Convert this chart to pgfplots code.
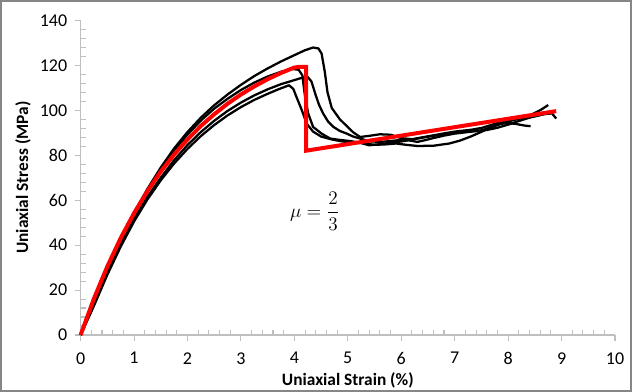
\documentclass[border=0pt]{standalone}
\usepackage{fontspec}
\setmainfont{Carlito}
\usepackage{amsmath}
\usepackage{pgfplots}
\pgfplotsset{compat=1.18}
\definecolor{axgray}{RGB}{191,191,191}
\definecolor{framegray}{RGB}{134,134,134}
\begin{document}
\begin{tikzpicture}
\useasboundingbox (-60.45pt,-42.75pt) rectangle (413.55pt,251.25pt);
\begin{axis}[
  scale only axis,
  width=400.8pt, height=236pt,
  xmin=0, xmax=10, ymin=0, ymax=140,
  axis lines=left,
  axis line style={draw=axgray, line width=0.8pt, -},
  xtick={0,1,...,10}, ytick={0,20,...,140},
  minor x tick num=4, minor y tick num=4,
  tick align=outside,
  major tick length=4.5pt,
  minor tick length=3.75pt,
  tick style={draw=axgray, line width=0.8pt},
  minor x tick style={yshift=3.75pt},
  minor y tick style={xshift=3.75pt},
  /pgf/number format/assume math mode=true,
  tick label style={font=\fontsize{13.5}{15}\selectfont},
  xticklabel style={yshift=-5pt},
  yticklabel style={xshift=-2pt},
  every axis x label/.style={at={(axis description cs:0.5,-0.143)}, anchor=center},
  every axis y label/.style={at={(axis description cs:-0.1078,0.5)}, rotate=90, anchor=center},
  xlabel={\fontsize{13}{15}\selectfont\bfseries Uniaxial Strain (\%)},
  ylabel={\fontsize{13}{15}\selectfont\bfseries Uniaxial Stress (MPa)},
  clip=false,
]
\addplot[black, line width=1.7pt, line join=round] coordinates {
(0,0) (0.25,14.5) (0.5,29) (0.75,42.3) (1,54.3) (1.25,65) (1.5,74.5) (1.75,83)
(2,90.3) (2.25,96.7) (2.5,102.2) (2.75,107) (3,111.3) (3.25,115.2) (3.5,118.6)
(3.75,121.7) (4,124.5) (4.2,126.7) (4.35,127.9) (4.45,127.5) (4.51,125.2)
(4.57,117) (4.62,108) (4.7,101) (4.85,96) (5.0,92.5) (5.1,90.2) (5.23,88.1)
(5.4,88.6) (5.6,89.3) (5.8,89.1) (6.0,87.6) (6.2,87.1) (6.5,88.4) (6.8,89.7)
(7.0,90.5) (7.3,91.3) (7.5,92.1) (7.8,94.3) (8.0,95.5) (8.2,96.5) (8.4,97.6)
(8.6,100) (8.75,102.3)};
\addplot[black, line width=1.7pt, line join=round] coordinates {
(0,0) (0.25,14) (0.5,28.5) (0.75,41.7) (1,53.7) (1.25,64.3) (1.5,73.6) (1.75,82)
(2,89.2) (2.25,95.4) (2.5,100.7) (2.75,105.1) (3,109) (3.25,112.3) (3.5,115)
(3.75,117.1) (3.95,118.4) (4.08,118) (4.15,115.5) (4.2,106) (4.26,98.5)
(4.35,92.6) (4.51,89.6) (4.67,87.4) (4.85,86.8) (5.04,86.3) (5.3,85.3) (5.5,84.6)
(5.7,84.8) (5.9,85.2) (6.1,84.6) (6.3,84.1) (6.6,84.2) (6.9,85.2) (7.1,86.5)
(7.3,88.3) (7.5,90.4) (7.7,92.6) (7.85,93.9) (8.0,94.3) (8.15,93.9) (8.3,93.2)
(8.42,92.9)};
\addplot[black, line width=1.7pt, line join=round] coordinates {
(0,0) (0.25,13.5) (0.5,27.4) (0.75,40) (1,51.5) (1.25,61.5) (1.5,70) (1.75,77.8)
(2,84.5) (2.25,90.3) (2.5,95.3) (2.75,99.7) (3,103.4) (3.25,106.6) (3.5,109.3)
(3.75,111.6) (4,113.4) (4.15,114.5) (4.25,114.8) (4.32,112.8) (4.39,107.4)
(4.46,102.5) (4.54,98.5) (4.63,95) (4.73,92.6) (4.85,90.8) (4.98,89.6) (5.1,88.3)
(5.23,87.4) (5.4,86.2) (5.6,85.9) (5.8,86.3) (6.0,86.8) (6.15,86.6) (6.3,85.9)
(6.45,86.7) (6.6,87.6) (6.8,88.7) (7.0,89.6) (7.25,90.3) (7.5,91) (7.75,93)
(8.0,95) (8.25,96.5) (8.5,97.5) (8.7,98.3) (8.82,98.6) (8.9,96.3)};
\addplot[black, line width=1.7pt, line join=round] coordinates {
(0,0) (0.25,13) (0.5,26.8) (0.75,39.3) (1,50.5) (1.25,60.3) (1.5,68.8) (1.75,76.3)
(2,82.8) (2.25,88.5) (2.5,93.4) (2.75,97.7) (3,101.4) (3.25,104.6) (3.5,107.3)
(3.7,109.3) (3.9,111.1) (3.98,109.5) (4.04,105.9) (4.14,100) (4.23,94.1)
(4.35,90.5) (4.5,88.3) (4.7,87) (4.9,86.1) (5.1,85.6) (5.25,85.4) (5.4,84.4)
(5.6,84.9) (5.8,85.5) (6.0,86.1) (6.2,86.9) (6.4,87.8) (6.7,89) (7.0,90)
(7.3,90.6) (7.6,91.2) (7.8,92.2) (8.0,93.6) (8.2,95.2) (8.4,96.7) (8.6,97.8)};
\addplot[red, line width=3pt, line join=miter] coordinates {
(0,0) (0.25,16.2) (0.5,30.5) (0.75,43.1) (1,54.2) (1.25,64) (1.5,72.7) (1.75,80.3)
(2,87) (2.25,93) (2.5,98.2) (2.75,102.9) (3,107) (3.25,110.6) (3.5,113.8)
(3.75,116.6) (4,119) (4.1,119.3) (4.22,119.3) (4.22,82) (8.9,99.6)};
\node[font=\fontsize{15}{17}\selectfont] at (axis cs:4.38,55) {$\mu = \dfrac{2}{3}$};
\end{axis}
\draw[framegray, line width=1.5pt] (-59.7pt,-42pt) rectangle (412.8pt,250.5pt);
\end{tikzpicture}
\end{document}
